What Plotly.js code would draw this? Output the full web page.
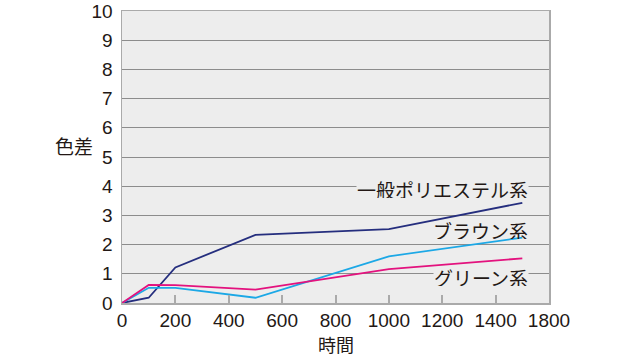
<!DOCTYPE html>
<html><head><meta charset="utf-8">
<script src="https://cdn.plot.ly/plotly-3.0.1.min.js"></script>
<style>html,body{margin:0;padding:0;background:#fff}#chart{width:640px;height:356px}</style>
</head><body><div id="chart"></div>
<script>
const hours = [0, 100, 200, 500, 1000, 1500];
const polyester = [0, 0.18, 1.22, 2.33, 2.53, 3.43];
const brown = [0, 0.52, 0.52, 0.18, 1.6, 2.24];
const green = [0, 0.62, 0.61, 0.46, 1.16, 1.53];
const seriesNames = ['一般ポリエステル系', 'ブラウン系', 'グリーン系'];
const xTickVals = [0, 200, 400, 600, 800, 1000, 1200, 1400, 1600];
const xTickText = ['0', '200', '400', '600', '800', '1000', '1200', '1400', '1800'];
const yTickVals = [0,1,2,3,4,5,6,7,8,9,10];
const labelY = [3.9, 2.5, 0.88];
const labelBg = ['#ededed', 'rgba(0,0,0,0)', '#ededed'];

const colors = ['#252e7e', '#1ca8e6', '#e3127e'];
const seriesData = [polyester, brown, green];
const numFont = {family: '"Liberation Sans Narrow", "Liberation Sans", Arial, sans-serif', size: 19, color: '#231815'};
const jpFont = {family: '"Noto Sans CJK JP", sans-serif', size: 19, color: '#231815'};
const xTitleFont = {family: '"Noto Sans CJK JP", sans-serif', size: 18, color: '#231815'};

const traces = seriesData.map((d, i) => ({
  x: hours, y: d, type: 'scatter', mode: 'lines', name: seriesNames[i],
  line: {color: colors[i], width: 1.8}
}));

const annotations = seriesNames.map((n, i) => ({
  x: 1525, y: labelY[i], xref: 'x', yref: 'y', text: n, showarrow: false,
  xanchor: 'right', yanchor: 'middle', font: jpFont, bgcolor: labelBg[i], borderpad: 0, height: 17
}));
annotations.push({x: -0.063, y: 0.54, xref: 'paper', yref: 'paper', text: '色差', showarrow: false,
  xanchor: 'right', yanchor: 'middle', font: jpFont});
annotations.push({x: 0.5, y: -0.141, xref: 'paper', yref: 'paper', text: '時間', showarrow: false,
  xanchor: 'center', yanchor: 'middle', font: xTitleFont});

const layout = {
  width: 640, height: 356,
  margin: {l: 122, r: 91, t: 11, b: 53},
  paper_bgcolor: '#ffffff', plot_bgcolor: '#ededed',
  showlegend: false,
  xaxis: {range: [0, 1600], tickvals: xTickVals, ticktext: xTickText, tickfont: numFont,
    showgrid: false, zeroline: false, showline: true, mirror: true, linecolor: '#aaaaaa', linewidth: 1.5,
    ticks: 'inside', ticklen: 8, tickwidth: 2, tickcolor: '#aaaaaa', ticklabelstandoff: 0},
  yaxis: {range: [0, 10], tickvals: yTickVals, tickfont: numFont,
    showgrid: true, gridcolor: '#8c8c8c', gridwidth: 1, zeroline: false,
    showline: true, mirror: true, linecolor: '#aaaaaa', linewidth: 1.5, ticks: '', ticklabelstandoff: 4},
  annotations: annotations
};
Plotly.newPlot('chart', traces, layout, {displayModeBar: false, staticPlot: true});
</script></body></html>
